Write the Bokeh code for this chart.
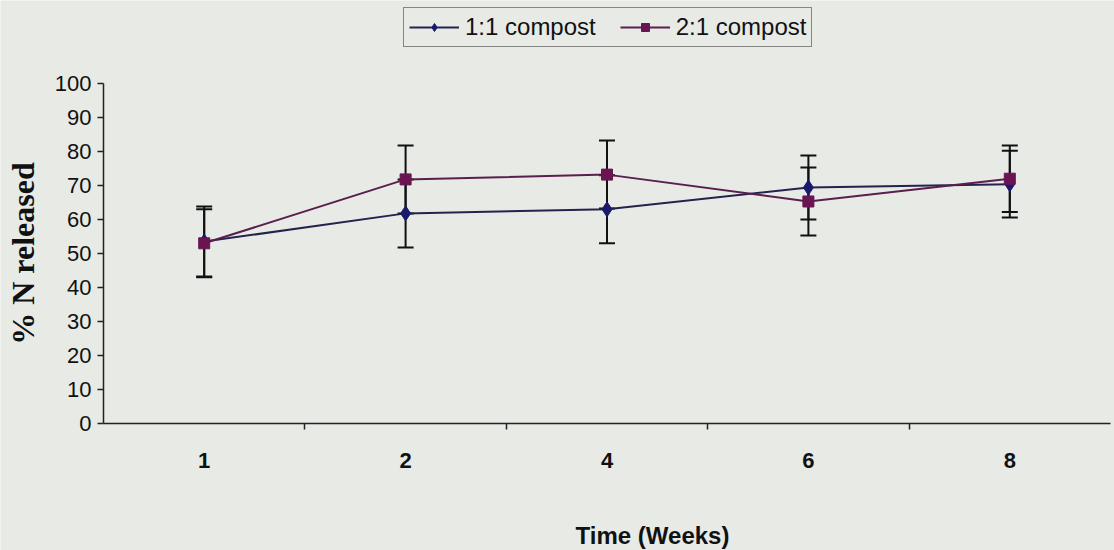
import math
from bokeh.plotting import figure
from bokeh.models import (Range1d, FixedTicker, Whisker, ColumnDataSource, Legend,
                          LegendItem, TeeHead, Label)
from bokeh.embed import file_html
from bokeh.resources import INLINE

# ---- data ----
weeks = ["1", "2", "4", "6", "8"]
compost_11 = [53.5, 61.8, 63.0, 69.4, 70.4]
err_11 = [10.3, 10.0, 10.0, 9.4, 9.8]
compost_21 = [53.0, 71.8, 73.2, 65.3, 72.0]
err_21 = [10.0, 10.0, 10.0, 10.0, 9.8]
series_names = ["1:1 compost", "2:1 compost"]
y_ticks = list(range(0, 101, 10))
x_title = "Time (Weeks)"
y_title = "% N released"

# ---- layout (pixels) ----
W, H = 1114, 550
AX_LEFT, AX_RIGHT = 103, 1110     # x extent of the category axis
AX_TOP, AX_ZERO = 83, 423         # y pixel of 100 and of 0
BG = "#e8eae6"

n = len(weeks)
xpos = [i + 0.5 for i in range(n)]
ux = (AX_RIGHT - AX_LEFT) / n
uy = (AX_ZERO - AX_TOP) / 100.0
x_range = Range1d(-AX_LEFT / ux, n + (W - AX_RIGHT) / ux)
y_range = Range1d(-(H - AX_ZERO) / uy, 100 + AX_TOP / uy)

p = figure(width=W, height=H, output_backend="svg", toolbar_location=None,
           x_range=x_range, y_range=y_range,
           min_border_left=0, min_border_right=0, min_border_top=0,
           min_border_bottom=0, background_fill_color=BG, border_fill_color=BG,
           outline_line_color=None)
p.grid.visible = False

# x axis
p.xaxis.fixed_location = 0
p.xaxis.bounds = (0, n)
p.xaxis.ticker = FixedTicker(ticks=xpos, minor_ticks=[i for i in range(1, n)])
p.xaxis.major_label_overrides = {x: w for x, w in zip(xpos, weeks)}
p.xaxis.major_tick_out = 0
p.xaxis.major_tick_in = 0
p.xaxis.minor_tick_out = 6
p.xaxis.minor_tick_in = 0
p.xaxis.axis_line_color = "#222222"
p.xaxis.axis_line_width = 1.5
p.xaxis.minor_tick_line_color = "#222222"
p.xaxis.minor_tick_line_width = 1.5
p.xaxis.major_label_text_font = "Liberation Sans"
p.xaxis.major_label_text_font_style = "bold"
p.xaxis.major_label_text_font_size = "22px"
p.xaxis.major_label_text_color = "#111111"
p.xaxis.major_label_standoff = 23

# y axis
p.yaxis.fixed_location = 0
p.yaxis.bounds = (0, 100)
p.yaxis.ticker = FixedTicker(ticks=y_ticks, minor_ticks=[])
p.yaxis.major_tick_out = 6
p.yaxis.major_tick_in = 0
p.yaxis.axis_line_color = "#222222"
p.yaxis.axis_line_width = 1.5
p.yaxis.major_tick_line_color = "#222222"
p.yaxis.major_tick_line_width = 1.5
p.yaxis.major_label_text_font = "Liberation Sans"
p.yaxis.major_label_text_font_size = "22px"
p.yaxis.major_label_text_color = "#111111"
p.yaxis.major_label_standoff = 6

# axis titles
p.add_layout(Label(x=652, y=H - 535, x_units="screen", y_units="screen",
                   text=x_title, text_align="center", text_baseline="middle",
                   text_font="Liberation Sans", text_font_style="bold",
                   text_font_size="24px", text_color="#111111"))
p.add_layout(Label(x=22, y=H - 253, x_units="screen", y_units="screen",
                   text=y_title, angle=math.pi / 2, text_align="center",
                   text_baseline="middle", text_font="Liberation Serif",
                   text_font_style="bold", text_font_size="32px",
                   text_color="#111111"))

src11 = ColumnDataSource(dict(x=xpos, y=compost_11,
                              lo=[v - e for v, e in zip(compost_11, err_11)],
                              hi=[v + e for v, e in zip(compost_11, err_11)]))
src21 = ColumnDataSource(dict(x=xpos, y=compost_21,
                              lo=[v - e for v, e in zip(compost_21, err_21)],
                              hi=[v + e for v, e in zip(compost_21, err_21)]))

for src in (src11, src21):
    w = Whisker(source=src, base="x", lower="lo", upper="hi",
                line_color="#111111", line_width=2,
                upper_head=TeeHead(size=16, line_color="#111111", line_width=2),
                lower_head=TeeHead(size=16, line_color="#111111", line_width=2))
    p.add_layout(w)

l11 = p.line("x", "y", source=src11, line_color="#23234f", line_width=2)
m11 = p.scatter("x", "y", source=src11, marker="diamond", size=15,
                fill_color="#1a1a6a", line_color="#1a1a6a")
l21 = p.line("x", "y", source=src21, line_color="#5a1f4c", line_width=2)
m21 = p.scatter("x", "y", source=src21, marker="square", size=11,
                fill_color="#6a1552", line_color="#6a1552")

legend = Legend(items=[LegendItem(label=series_names[0], renderers=[l11, m11]),
                       LegendItem(label=series_names[1], renderers=[l21, m21])],
                orientation="horizontal", location=(403, H - 47),
                border_line_color="#222222", border_line_width=1.5,
                background_fill_color=BG, background_fill_alpha=1,
                label_text_font="Liberation Sans", label_text_font_size="24px",
                label_text_color="#111111", glyph_width=50, glyph_height=20,
                label_standoff=6, spacing=24, padding=5, margin=0)
p.add_layout(legend, "center")

open("out.html", "w").write(file_html(p, INLINE))
